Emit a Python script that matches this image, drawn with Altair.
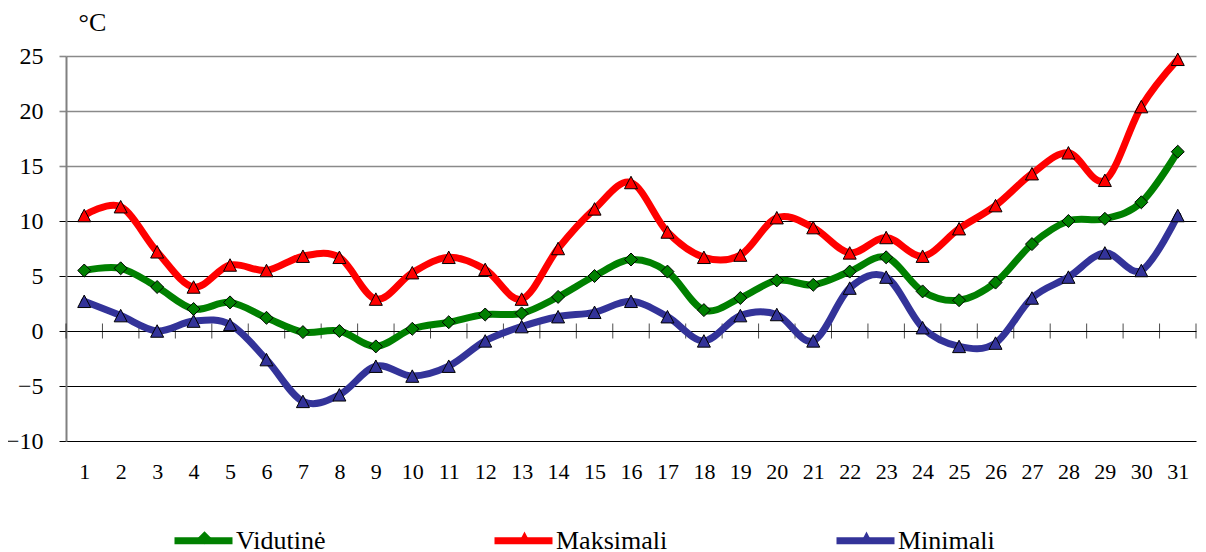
import altair as alt
import pandas as pd

days = list(range(1, 32))
series_names = ["Vidutinė", "Maksimali", "Minimali"]
series_colors = ["#008000", "#FF0000", "#333399"]

vidutine = [5.5, 5.7, 4.0, 2.0, 2.6, 1.2, -0.1, 0.0, -1.4, 0.2, 0.8, 1.5, 1.6, 3.1, 5.0, 6.5,
            5.4, 1.9, 3.0, 4.6, 4.2, 5.4, 6.7, 3.6, 2.8, 4.4, 7.9, 10.0, 10.2, 11.7, 16.3]
maksimali = [10.5, 11.3, 7.2, 4.0, 6.0, 5.5, 6.8, 6.7, 2.9, 5.3, 6.7, 5.6, 2.9, 7.5, 11.1, 13.5,
             9.0, 6.7, 6.9, 10.3, 9.4, 7.1, 8.5, 6.8, 9.3, 11.4, 14.3, 16.2, 13.7, 20.4, 24.7]
minimali = [2.7, 1.4, 0.0, 0.9, 0.6, -2.6, -6.4, -5.8, -3.2, -4.1, -3.2, -0.9, 0.4, 1.3, 1.7, 2.7,
            1.3, -0.9, 1.4, 1.5, -0.9, 3.9, 4.9, 0.3, -1.4, -1.1, 3.0, 4.9, 7.1, 5.5, 10.5]

y_ticks = [-10, -5, 0, 5, 10, 15, 20, 25]

rows = []
for name, vals in zip(series_names, [vidutine, maksimali, minimali]):
    for d, v in zip(days, vals):
        rows.append({"day": d, "temp": v, "series": name})
df = pd.DataFrame(rows)

# category boundaries for tick marks crossing the zero line
bounds = pd.DataFrame({"day": [d - 0.5 for d in days] + [days[-1] + 0.5], "temp": 0})

FONT = "Liberation Serif"

diamond = "M0,-0.224L0.224,0L0,0.224L-0.224,0Z"
triangle = "M0,-0.215L0.224,0.215L-0.224,0.215Z"

xscale = alt.Scale(domain=[0.5, 31.5], nice=False, zero=False)
yscale = alt.Scale(domain=[-10, 25], nice=False, zero=False)
cscale = alt.Scale(domain=series_names, range=series_colors)
sscale = alt.Scale(domain=series_names, range=[diamond, triangle, triangle])

grid_color = {"condition": {"test": "datum.value >= 15", "value": "#8a8a8a"}, "value": "#000000"}
grid_width = {"condition": {"test": "datum.value >= 15", "value": 1.6}, "value": 1}

x_axis = alt.Axis(values=days, grid=False, ticks=False, tickSize=0, domain=False,
                  labelFont=FONT, labelFontSize=22, labelColor="black",
                  labelPadding=20, title=None, labelFlush=False, labelOverlap=False)
y_axis = alt.Axis(values=y_ticks, grid=True, gridColor=grid_color, gridWidth=grid_width,
                  tickSize=7, tickColor=grid_color, tickWidth=grid_width,
                  domainColor="#808080", domainWidth=2, labelOverlap=False,
                  labelFont=FONT, labelFontSize=24, labelColor="black", labelPadding=16,
                  title="°C", titleAngle=0, titleAlign="left", titleBaseline="middle",
                  titleX=12, titleY=-34, titleFont=FONT, titleFontSize=26,
                  titleFontWeight="normal", titleColor="black")

x_enc = alt.X("day:Q", scale=xscale, axis=x_axis)
y_enc = alt.Y("temp:Q", scale=yscale, axis=y_axis)

LEG_Y = 452
common_leg = dict(orient="none", legendY=LEG_Y, direction="horizontal",
                  title=None, padding=0, labelOffset=0,
                  labelFont=FONT, labelFontSize=26, symbolSize=3364)

ticks = alt.Chart(bounds).mark_tick(orient="vertical", size=15, thickness=1, color="black").encode(
    x=x_enc,
    y=y_enc,
)

lines = alt.Chart(df).mark_line(strokeWidth=7, interpolate="cardinal", strokeCap="round",
                                strokeJoin="round").encode(
    x=x_enc,
    y=y_enc,
    color=alt.Color("series:N", scale=cscale,
                    legend=alt.Legend(symbolType="stroke", symbolStrokeWidth=7, legendX=105,
                                      columnPadding=154, labelColor="black", **common_leg)),
    detail="series:N",
)

pleg = alt.Legend(symbolStrokeColor="black", symbolStrokeWidth=1, legendX=109,
                  columnPadding=171, symbolOpacity=1, labelOpacity=0, **common_leg)
points = alt.Chart(df).mark_point(filled=True, size=3364, stroke="black", strokeWidth=1,
                                  opacity=1).encode(
    x=x_enc,
    y=y_enc,
    color=alt.Color("series:N", scale=cscale, legend=pleg),
    shape=alt.Shape("series:N", scale=sscale, legend=pleg),
)

chart = alt.layer(ticks, lines, points).resolve_legend(
    color="independent", shape="independent"
).properties(
    width=1130,
    height=385,
    autosize=alt.AutoSizeParams(type="none"),
    padding={"left": 58, "top": 48, "right": 2, "bottom": 108},
    background="white",
).configure_view(stroke=None)

chart.save("out.html", embed_options={"renderer": "svg", "actions": False})
